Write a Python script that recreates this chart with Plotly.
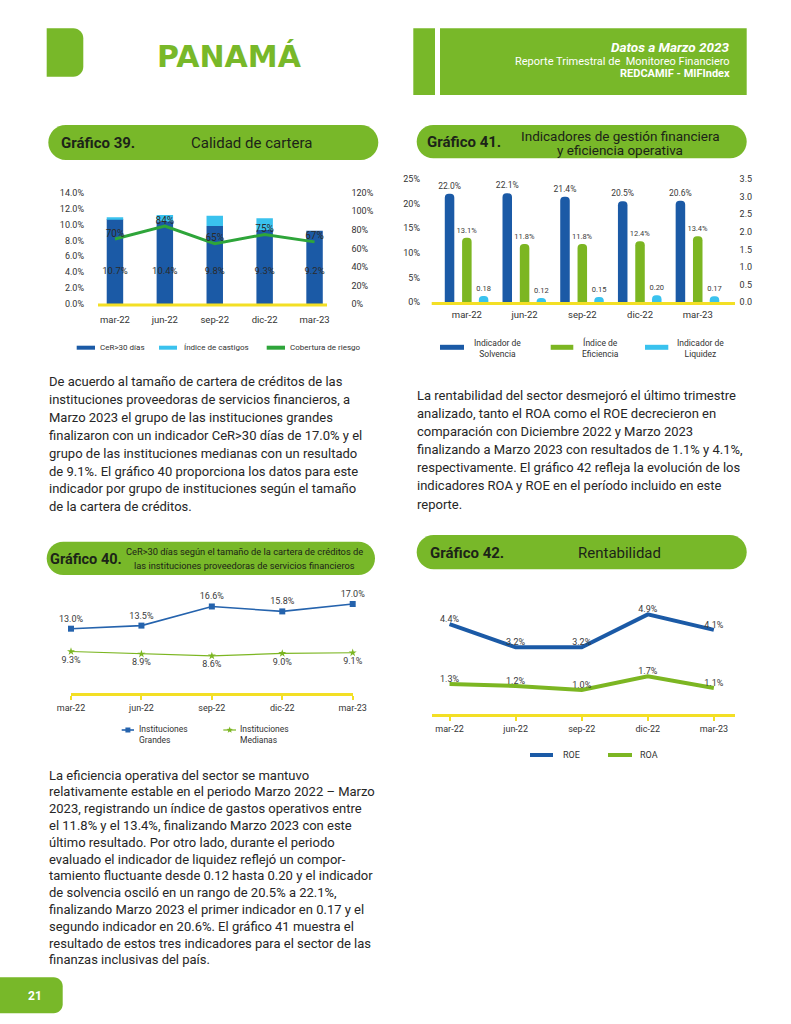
import math
import plotly.graph_objects as go

W, H = 791, 1024

# ---------------- data ----------------
periods = ["mar-22", "jun-22", "sep-22", "dic-22", "mar-23"]

# Gráfico 39 - Calidad de cartera
cer30 = [10.7, 10.4, 9.8, 9.3, 9.2]
castigos = [0.2, 0.8, 1.3, 1.5, 0.0]
cobertura = [70, 84, 65, 75, 67]
ticks39_left = [0, 2, 4, 6, 8, 10, 12, 14]
ticks39_right = [0, 20, 40, 60, 80, 100, 120]

# Gráfico 41 - Indicadores de gestión financiera
solvencia = [22.0, 22.1, 21.4, 20.5, 20.6]
eficiencia = [13.1, 11.8, 11.8, 12.4, 13.4]
liquidez = [0.18, 0.12, 0.15, 0.20, 0.17]
ticks41_left = [0, 5, 10, 15, 20, 25]
ticks41_right = [0.0, 0.5, 1.0, 1.5, 2.0, 2.5, 3.0, 3.5]

# Gráfico 40 - CeR>30 por tamaño
grandes = [13.0, 13.5, 16.6, 15.8, 17.0]
medianas = [9.3, 8.9, 8.6, 9.0, 9.1]

# Gráfico 42 - Rentabilidad
roe = [4.4, 3.2, 3.2, 4.9, 4.1]
roa = [1.3, 1.2, 1.0, 1.7, 1.1]

# ---------------- texts ----------------
para1 = [
    "De acuerdo al tamaño de cartera de créditos de las",
    "instituciones proveedoras de servicios financieros, a",
    "Marzo 2023 el grupo de las instituciones grandes",
    "finalizaron con un indicador CeR>30 días de 17.0% y el",
    "grupo de las instituciones medianas con un resultado",
    "de 9.1%. El gráfico 40 proporciona los datos para este",
    "indicador por grupo de instituciones según el tamaño",
    "de la cartera de créditos.",
]
para2 = [
    "La rentabilidad del sector desmejoró el último trimestre",
    "analizado, tanto el ROA como el ROE decrecieron en",
    "comparación con Diciembre 2022 y Marzo 2023",
    "finalizando a Marzo 2023 con resultados de 1.1% y 4.1%,",
    "respectivamente. El gráfico 42 refleja la evolución de los",
    "indicadores ROA y ROE en el período incluido en este",
    "reporte.",
]
para3 = [
    "La eficiencia operativa del sector se mantuvo",
    "relativamente estable en el periodo Marzo 2022 – Marzo",
    "2023, registrando un índice de gastos operativos entre",
    "el 11.8% y el 13.4%, finalizando Marzo 2023 con este",
    "último resultado. Por otro lado, durante el periodo",
    "evaluado el indicador de liquidez reflejó un compor-",
    "tamiento fluctuante desde 0.12 hasta 0.20 y el indicador",
    "de solvencia osciló en un rango de 20.5% a 22.1%,",
    "finalizando Marzo 2023 el primer indicador en 0.17 y el",
    "segundo indicador en 20.6%. El gráfico 41 muestra el",
    "resultado de estos tres indicadores para el sector de las",
    "finanzas inclusivas del país.",
]

# ---------------- style ----------------
GREEN = "#78b829"
DARK_BLUE = "#1b5aa6"
LIGHT_BLUE = "#3ac2ee"
COB_GREEN = "#2ea53a"
BAR_GREEN = "#7cb622"
LINE_BLUE = "#2563ad"
YELLOW = "#f3df25"
TXT = "#262626"
LBL = "#3a3a3a"
CHART_FONT = "Roboto, sans-serif"
BODY_FONT = "Roboto, sans-serif"
HEAD_FONT = "DejaVu Sans, sans-serif"


def X(p):
    return p / W


def Y(p):
    return 1 - p / H


K = 0.5523


def rrect_path(x0, y0, x1, y1, rl, rr):
    pts = [f"M {X(x0 + rl)},{Y(y0)}", f"L {X(x1 - rr)},{Y(y0)}"]
    if rr > 0:
        pts.append(f"C {X(x1 - rr + K * rr)},{Y(y0)} {X(x1)},{Y(y0 + rr - K * rr)} {X(x1)},{Y(y0 + rr)}")
    pts.append(f"L {X(x1)},{Y(y1 - rr)}")
    if rr > 0:
        pts.append(f"C {X(x1)},{Y(y1 - rr + K * rr)} {X(x1 - rr + K * rr)},{Y(y1)} {X(x1 - rr)},{Y(y1)}")
    pts.append(f"L {X(x0 + rl)},{Y(y1)}")
    if rl > 0:
        pts.append(f"C {X(x0 + rl - K * rl)},{Y(y1)} {X(x0)},{Y(y1 - rl + K * rl)} {X(x0)},{Y(y1 - rl)}")
    pts.append(f"L {X(x0)},{Y(y0 + rl)}")
    if rl > 0:
        pts.append(f"C {X(x0)},{Y(y0 + rl - K * rl)} {X(x0 + rl - K * rl)},{Y(y0)} {X(x0 + rl)},{Y(y0)}")
    pts.append("Z")
    return " ".join(pts)


shapes = []
annotations = []


def box(x0, y0, x1, y1, color, rl=0, rr=0):
    shapes.append(dict(type="path", xref="paper", yref="paper", path=rrect_path(x0, y0, x1, y1, rl, rr),
                       fillcolor=color, line=dict(width=0), layer="below"))


def hline(x0, x1, y, color, width):
    shapes.append(dict(type="line", xref="paper", yref="paper", x0=X(x0), x1=X(x1), y0=Y(y), y1=Y(y),
                       line=dict(color=color, width=width), layer="above"))


def text(t, x, y, size, color=TXT, anchor="left", family=BODY_FONT, weight="normal", style="normal"):
    annotations.append(dict(text=t, x=X(x), y=Y(y), xref="paper", yref="paper", xanchor=anchor,
                            yanchor="middle", showarrow=False, align=anchor if anchor != "middle" else "center",
                            font=dict(size=size, color=color, family=family, weight=weight, style=style)))


fig = go.Figure()

# ---------------- Gráfico 39 ----------------
fig.add_trace(go.Bar(x=periods, y=cer30, xaxis="x", yaxis="y", width=0.33,
                     marker=dict(color=DARK_BLUE, line=dict(width=0)), name="CeR>30 días"))
fig.add_trace(go.Bar(x=periods, y=castigos, base=cer30, xaxis="x", yaxis="y", width=0.33,
                     marker=dict(color=LIGHT_BLUE, line=dict(width=0)), name="Índice de castigos"))
LABEL39_Y = 4.05
fig.add_trace(go.Scatter(x=periods, y=[LABEL39_Y] * len(cer30), xaxis="x", yaxis="y", mode="text",
                         text=[f"{v:.1f}%" for v in cer30],
                         textfont=dict(size=9.5, color="#2b2b2b", family=CHART_FONT), cliponaxis=False))
fig.add_trace(go.Scatter(x=periods, y=cobertura, xaxis="x", yaxis="y2", mode="lines+text",
                         line=dict(color=COB_GREEN, width=3), name="Cobertura de riesgo",
                         text=[f"{v}%" for v in cobertura], textposition="top center",
                         textfont=dict(size=10, color="#2b2b2b", family=CHART_FONT), cliponaxis=False))

# ---------------- Gráfico 41 ----------------
BW = 0.165
for vals, off, col, ax, tmpl, fs in [
    (solvencia, -0.30, DARK_BLUE, "y3", "%{y:.1f}%", 8.5),
    (eficiencia, 0.0, BAR_GREEN, "y3", "%{y:.1f}%", 7.5),
    (liquidez, 0.29, LIGHT_BLUE, "y4", "%{y:.2f}", 7.5),
]:
    fig.add_trace(go.Bar(x=periods, y=vals, xaxis="x2", yaxis=ax, width=BW, offset=off - BW / 2,
                         marker=dict(color=col, line=dict(width=0), cornerradius="50%"),
                         texttemplate=tmpl, textposition="outside", constraintext="none",
                         textfont=dict(size=fs, color=LBL, family=CHART_FONT), cliponaxis=False))

# ---------------- Gráfico 40 ----------------
fig.add_trace(go.Scatter(x=periods, y=grandes, xaxis="x3", yaxis="y5", mode="lines+markers+text",
                         line=dict(color=LINE_BLUE, width=1.6),
                         marker=dict(symbol="square", size=6, color=LINE_BLUE),
                         text=[f"{v:.1f}%" for v in grandes], textposition="top center",
                         textfont=dict(size=9, color=LBL, family=CHART_FONT), cliponaxis=False))
fig.add_trace(go.Scatter(x=periods, y=medianas, xaxis="x3", yaxis="y5", mode="lines+markers+text",
                         line=dict(color=BAR_GREEN, width=1.2),
                         marker=dict(symbol="star", size=6, color=BAR_GREEN),
                         text=[f"{v:.1f}%" for v in medianas], textposition="bottom center",
                         textfont=dict(size=9, color=LBL, family=CHART_FONT), cliponaxis=False))

# ---------------- Gráfico 42 ----------------
fig.add_trace(go.Scatter(x=periods, y=roe, xaxis="x4", yaxis="y6", mode="lines+text",
                         line=dict(color=DARK_BLUE, width=4),
                         text=[f"{v:.1f}%" for v in roe], textposition="top center",
                         textfont=dict(size=9, color=LBL, family=CHART_FONT), cliponaxis=False))
fig.add_trace(go.Scatter(x=periods, y=roa, xaxis="x4", yaxis="y6", mode="lines+text",
                         line=dict(color=BAR_GREEN, width=4),
                         text=[f"{v:.1f}%" for v in roa], textposition="top center",
                         textfont=dict(size=9, color=LBL, family=CHART_FONT), cliponaxis=False))

# ---------------- axes ----------------
tickfont = dict(size=9, color="#333333", family=CHART_FONT)
common = dict(showgrid=False, zeroline=False, fixedrange=True, automargin=False)

layout_axes = dict(
    xaxis=dict(domain=[X(90), X(339.5)], anchor="y", type="category", showline=False, ticks="",
               tickfont=dict(size=9.5, color="#333", family=CHART_FONT), ticklabelstandoff=8, **common),
    yaxis=dict(domain=[Y(304), Y(192.7)], anchor="x", range=[0, 14], tickvals=ticks39_left,
               ticktext=[f"{v:.1f}%" for v in ticks39_left], showline=False, ticks="", tickfont=tickfont,
               ticklabelstandoff=5, **common),
    yaxis2=dict(overlaying="y", side="right", anchor="x", range=[0, 120], tickvals=ticks39_right,
                ticktext=[f"{v}%" for v in ticks39_right], showline=False, ticks="", tickfont=tickfont,
                ticklabelstandoff=11, **common),

    xaxis2=dict(domain=[X(438), X(726.6)], anchor="y3", type="category", showline=False, ticks="",
                tickfont=dict(size=9.5, color="#333", family=CHART_FONT), ticklabelstandoff=5, **common),
    yaxis3=dict(domain=[Y(302.3), Y(179)], anchor="x2", range=[0, 25], tickvals=ticks41_left,
                ticktext=[f"{v}%" for v in ticks41_left], showline=False, ticks="", tickfont=tickfont,
                ticklabelstandoff=17, **common),
    yaxis4=dict(overlaying="y3", side="right", anchor="x2", range=[0, 3.5], tickvals=ticks41_right,
                ticktext=[f"{v:.1f}" for v in ticks41_right], showline=False, ticks="", tickfont=tickfont,
                ticklabelstandoff=12, **common),

    xaxis3=dict(domain=[X(71), X(352.7)], anchor="y5", type="category", range=[0, 4], showline=True,
                linecolor=YELLOW, linewidth=2.5, ticks="outside", ticklen=4, tickwidth=1.5, tickcolor=YELLOW,
                tickfont=dict(size=9, color="#333", family=CHART_FONT), **common),
    yaxis5=dict(domain=[Y(693.3), Y(590)], anchor="x3", range=[2.53, 19.27], visible=False, **common),

    xaxis4=dict(domain=[X(431.7), X(735)], anchor="y6", type="category", range=[-0.27, 4.32], showline=True,
                linecolor=YELLOW, linewidth=3, ticks="outside", ticklen=4, tickwidth=1.5, tickcolor=YELLOW,
                tickfont=dict(size=9, color="#333", family=CHART_FONT), **common),
    yaxis6=dict(domain=[Y(714.3), Y(600)], anchor="x4", range=[-0.26, 5.64], visible=False, **common),
)

# ---------------- page decoration ----------------
box(46.7, 28.3, 83.3, 76.7, GREEN, rl=0, rr=10)
text("PANAMÁ", 229, 56, 30, color=GREEN, anchor="center", family=HEAD_FONT, weight="bold")
box(413.3, 28.3, 435, 95, GREEN)
box(440, 28.3, 746.7, 95, GREEN)
text("Datos a Marzo 2023", 731.7, 46.5, 13.5, color="white", anchor="right", weight="bold", style="italic")
text("Reporte Trimestral de\u00a0 Monitoreo Financiero", 731.7, 61.2, 11, color="white", anchor="right")
text("REDCAMIF - MIFIndex", 731.7, 73.8, 11, color="white", anchor="right", weight="bold")

box(0, 977.3, 62.7, 1013.3, GREEN, rl=0, rr=9)
text("21", 35, 996, 12, color="white", anchor="center", weight="bold")

BANNER_TXT = "#1c2418"
box(48.3, 125, 378.3, 160, GREEN, rl=17.5, rr=17.5)
text("Gráfico 39.", 59, 142.7, 15, color=BANNER_TXT, family=CHART_FONT, weight="bold")
text("Calidad de cartera", 251, 142.7, 15, color=BANNER_TXT, anchor="center", family=CHART_FONT)

box(416.7, 125, 746.7, 158.3, GREEN, rl=16.6, rr=16.6)
text("Gráfico 41.", 425, 142, 15, color=BANNER_TXT, family=CHART_FONT, weight="bold")
text("Indicadores de gestión financiera", 620, 135.5, 13.5, color=BANNER_TXT, anchor="center", family=CHART_FONT)
text("y eficiencia operativa", 620, 150, 13.5, color=BANNER_TXT, anchor="center", family=CHART_FONT)

box(46.7, 541.7, 375, 575, GREEN, rl=16.6, rr=16.6)
text("Gráfico 40.", 48, 559.3, 14.5, color=BANNER_TXT, family=CHART_FONT, weight="bold")
text("CeR>30 días según el tamaño de la cartera de créditos de", 245, 551.7, 9.3, color=BANNER_TXT,
     anchor="center", family=CHART_FONT)
text("las instituciones proveedoras de servicios financieros", 245, 565, 9.3, color=BANNER_TXT,
     anchor="center", family=CHART_FONT)

box(416.7, 535, 746.7, 569.3, GREEN, rl=17, rr=17)
text("Gráfico 42.", 428, 552.7, 15, color=BANNER_TXT, family=CHART_FONT, weight="bold")
text("Rentabilidad", 619.3, 552.7, 15, color=BANNER_TXT, anchor="center", family=CHART_FONT)

hline(98, 327, 305, YELLOW, 3)
hline(431.7, 735, 303.5, YELLOW, 3)

LEG_FONT = BODY_FONT
hline(76.7, 95, 347.7, DARK_BLUE, 4)
text("CeR>30 días", 98, 347.7, 8, color="#333", family=LEG_FONT)
hline(159, 177, 347.7, LIGHT_BLUE, 4)
text("Índice de castigos", 181.5, 347.7, 8, color="#333", family=LEG_FONT)
hline(266.7, 285, 347.7, COB_GREEN, 4)
text("Cobertura de riesgo", 287.5, 347.7, 8, color="#333", family=LEG_FONT)

hline(440, 464, 347.3, DARK_BLUE, 5)
text("Indicador de<br>Solvencia", 497, 348, 8.5, color="#333", anchor="center", family=LEG_FONT)
hline(550.7, 573.3, 347.3, BAR_GREEN, 5)
text("Índice de<br>Eficiencia", 600, 348, 8.5, color="#333", anchor="center", family=LEG_FONT)
hline(645, 668.3, 347.3, LIGHT_BLUE, 5)
text("Indicador de<br>Liquidez", 700.7, 348, 8.5, color="#333", anchor="center", family=LEG_FONT)

hline(121.7, 134, 730, LINE_BLUE, 1.6)
shapes.append(dict(type="rect", xref="paper", yref="paper", x0=X(125.4), x1=X(130.4), y0=Y(732.5), y1=Y(727.5),
                   fillcolor=LINE_BLUE, line=dict(width=0)))
text("Instituciones<br>Grandes", 136.7, 734.5, 8.5, color="#333", family=LEG_FONT)
hline(223.3, 236, 730, BAR_GREEN, 1.2)
cx, cy = 229.7, 730
star = []
for i in range(10):
    r = 3.4 if i % 2 == 0 else 1.4
    a = -math.pi / 2 + i * math.pi / 5
    star.append((cx + r * math.cos(a), cy + r * math.sin(a)))
spath = "M " + " L ".join(f"{X(px_)},{Y(py_)}" for px_, py_ in star) + " Z"
shapes.append(dict(type="path", xref="paper", yref="paper", path=spath, fillcolor=BAR_GREEN, line=dict(width=0)))
text("Instituciones<br>Medianas", 238.3, 734.5, 8.5, color="#333", family=LEG_FONT)

hline(530, 553, 755, DARK_BLUE, 4)
text("ROE", 560.7, 755, 9, color="#333", family=LEG_FONT)
hline(608, 632, 755, BAR_GREEN, 4)
text("ROA", 638, 755, 9, color="#333", family=LEG_FONT)

for i, line in enumerate(para1):
    text(line, 47, 381.7 + i * 17.86, 13)
for i, line in enumerate(para2):
    text(line, 415, 395 + i * 18.17, 13)
for i, line in enumerate(para3):
    text(line, 47, 775 + i * 16.8, 13)

fig.update_layout(
    width=W, height=H, autosize=False,
    margin=dict(l=0, r=0, t=0, b=0, pad=0, autoexpand=False),
    paper_bgcolor="white", plot_bgcolor="rgba(0,0,0,0)", showlegend=False, barmode="overlay",
    shapes=shapes, annotations=annotations, hovermode=False,
    **layout_axes,
)

fig.write_html(
    "out.html",
    config=dict(displayModeBar=False),
    post_script="document.body.style.margin='0';document.body.style.padding='0';document.body.style.overflow='hidden';",
)
